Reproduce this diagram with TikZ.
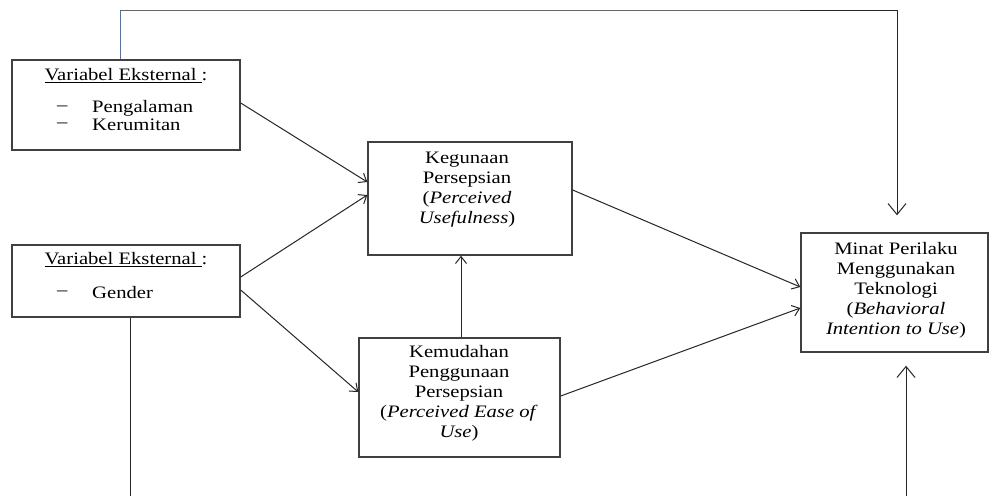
\documentclass[tikz,border=0pt]{standalone}
\usepackage{fontspec}
\setmainfont{Liberation Serif}[FakeStretch=1.18]
\usetikzlibrary{arrows.meta}

\tikzset{
  box/.style={draw=black!75, line width=1.4pt, fill=white, inner sep=0pt},
  lbl/.style={font=\fontsize{17.5}{20}\selectfont, align=center, inner sep=0pt, text=black},
  item/.style={font=\fontsize{17.5}{20}\selectfont, inner sep=0pt, anchor=west, text=black},
  conn/.style={draw=black!85, line width=1pt},
  tip/.style={-{Straight Barb[length=7pt,width=11pt,line width=1pt]}},
  bigtip/.style={-{Straight Barb[length=11pt,width=18pt,line width=1pt]}}
}

\begin{document}
\begin{tikzpicture}[x=1pt,y=-1pt]
  \useasboundingbox[fill=white] (0,0) rectangle (990,496);

  % boxes
  \node[box, minimum width=228pt, minimum height=90pt]  (ext1) at (126,105) {};
  \node[box, minimum width=228pt, minimum height=72pt]  (ext2) at (126,281) {};
  \node[box, minimum width=204pt, minimum height=113pt] (pu)   at (470,198.5) {};
  \node[box, minimum width=201pt, minimum height=119pt] (peou) at (459.5,397.5) {};
  \node[box, minimum width=187pt, minimum height=119pt] (bi)   at (894.5,292.5) {};

  % texts of the external variables
  \node[lbl] (ext1title) at (126,76) {\underline{Variabel Eksternal\ }:};
  \node[item] (ext1dashA) at (57,108) {--};
  \node[item] (ext1itemA) at (92,108) {Pengalaman};
  \node[item] (ext1dashB) at (57,125) {--};
  \node[item] (ext1itemB) at (92,125) {Kerumitan};

  \node[lbl] (ext2title) at (126,260) {\underline{Variabel Eksternal\ }:};
  \node[item] (ext2dash) at (57,293) {--};
  \node[item] (ext2item) at (92,293) {Gender};

  % texts of the constructs
  \node[lbl] (putext) at (467,190)
    {Kegunaan\\Persepsian\\(\textit{Perceived}\\\textit{Usefulness})};
  \node[lbl] (peoutext) at (459,393)
    {Kemudahan\\Penggunaan\\Persepsian\\(\textit{Perceived Ease of}\\\textit{Use})};
  \node[lbl] (bitext) at (896,290)
    {Minat Perilaku\\Menggunakan\\Teknologi\\(\textit{Behavioral}\\\textit{Intention to Use})};

  % corner and loose ends of the outer paths
  \coordinate (topleft)  at (120,10);
  \coordinate (topright) at (897,12);
  \coordinate (genderend) at (130,496);
  \coordinate (bottomend) at (906,496);

  % outer path over the top
  \draw[draw={rgb,255:red,68;green,114;blue,196}, line width=1pt]
    (ext1.north -| topleft) -- (topleft);
  \draw[conn, draw=black!60] (topleft) -- (topleft -| 800,0);
  \draw[conn, bigtip, shorten >=17pt] (topleft -| 800,0) -- (topleft -| topright) -- (topright) -- (bi.north -| topright);

  % lines leaving at the bottom
  \draw[conn] (ext2.south -| genderend) -- (genderend);
  \draw[conn, bigtip, shorten >=13pt] (bottomend) -- (bi.south -| bottomend);

  % structural arrows
  \draw[conn, tip] (ext1.east |- 0,103) -- (pu.west |- 0,182);
  \draw[conn, tip] (ext2.east |- 0,277) -- (pu.west |- 0,195);
  \draw[conn, tip] (ext2.east |- 0,290) -- (peou.west |- 0,392);
  \draw[conn, tip] (peou.north -| 461,0) -- (pu.south -| 461,0);
  \draw[conn, tip] (pu.east |- 0,190) -- (bi.west |- 0,287);
  \draw[conn, tip] (peou.east |- 0,396) -- (bi.west |- 0,308);
\end{tikzpicture}
\end{document}
